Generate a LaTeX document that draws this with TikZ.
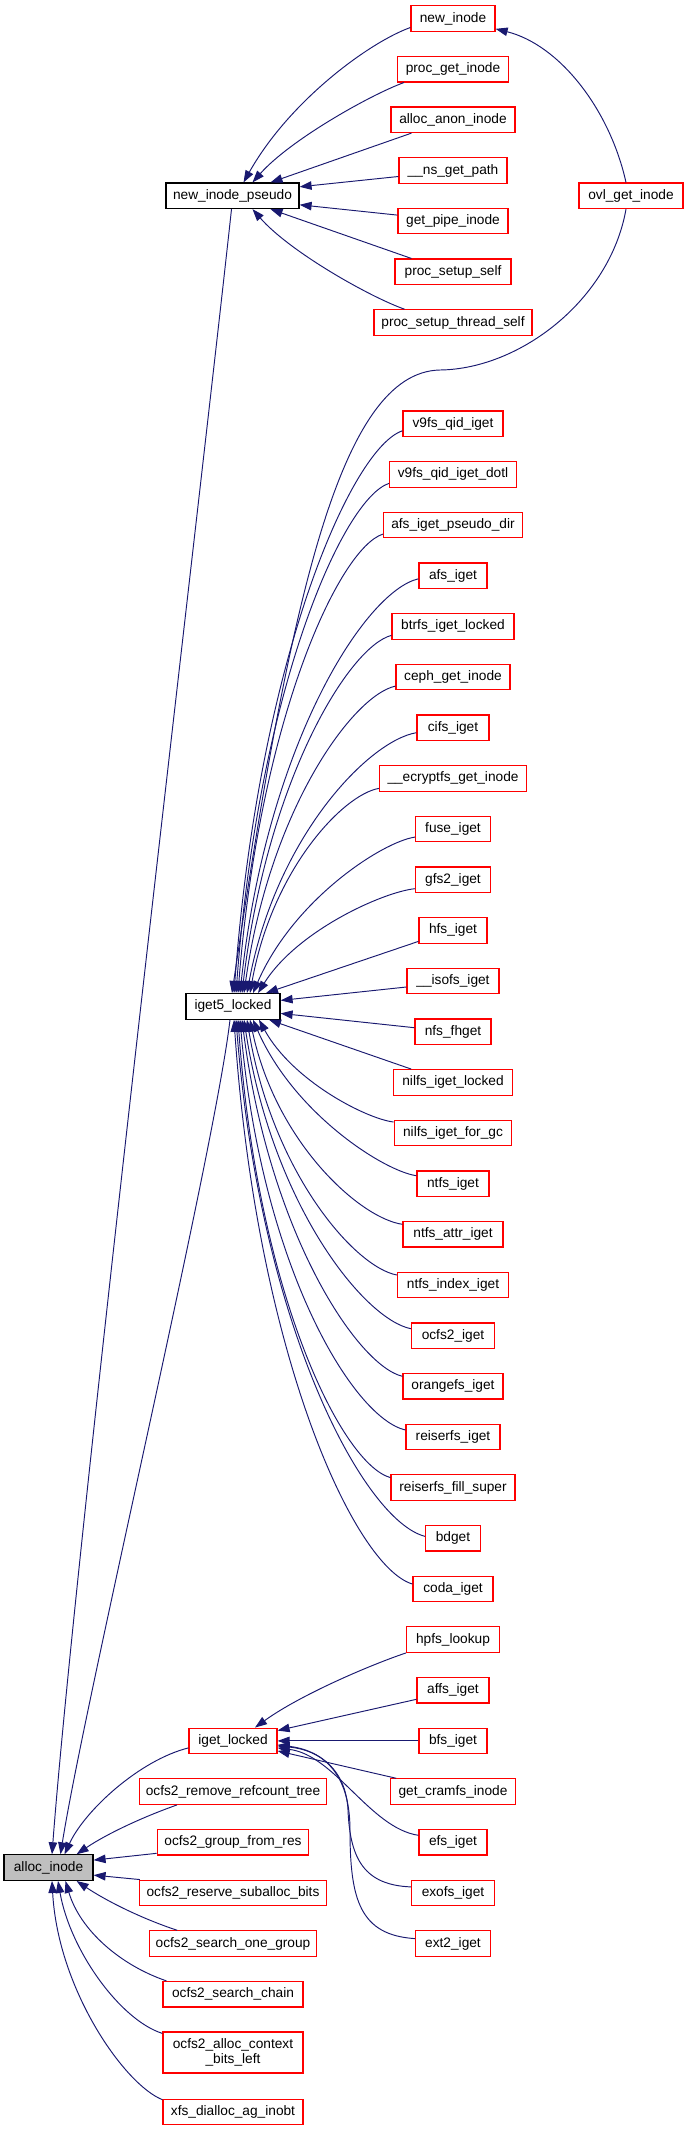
\documentclass[tikz,border=0pt]{standalone}
\usepackage{fontspec}
\setmainfont{Liberation Sans}
\usetikzlibrary{arrows.meta,calc}
\definecolor{edgeblue}{HTML}{191970}
\definecolor{greyfill}{HTML}{BFBFBF}
\newcommand{\nodefont}{\fontsize{13.7}{14.6}\selectfont}
% fan connector: caller, start yshift, callee, anchor, end xshift, C1 x-fraction, C2 x-fraction
\newcommand{\fan}[7]{%
  \path ([yshift=#2]#1.west) coordinate (fS) ([xshift=#5]#3.#4) coordinate (fT);
  \path ($(fS)!#6!(fT)$) coordinate (fA) ($(fS)!0.03!(fT)$) coordinate (fB)
        ($(fS)!#7!(fT)$) coordinate (fC) ($(fS)!0.4!(fT)$) coordinate (fD);
  \draw[conn] ([yshift=#2]#1.west) .. controls (fA |- fB) and (fC |- fD) .. ([xshift=#5]#3.#4);}
\begin{document}
\begin{tikzpicture}[x=1pt,y=-1pt,
  box/.style={draw=red, fill=white, line width=1.2pt, minimum height=25.5pt, inner xsep=1pt, inner ysep=0pt, font=\nodefont},
  bbox/.style={box, draw=black},
  gbox/.style={box, draw=black, fill=greyfill},
  conn/.style={draw=edgeblue, line width=0.95pt, -{Triangle[length=12pt,width=8.5pt]}}]
\fill[white] (0,0) rectangle (688,2131);
\useasboundingbox (0,0) rectangle (688,2131);

% right column
\node[box, minimum width=84pt] (newinode) at (453,18.5) {new\_inode};
\node[box, minimum width=111pt] (procget) at (453,69.2) {proc\_get\_inode};
\node[box, minimum width=124pt] (allocanon) at (453,119.8) {alloc\_anon\_inode};
\node[box, minimum width=108pt] (nsget) at (453,170.5) {\_\_ns\_get\_path};
\node[box, minimum width=110pt] (getpipe) at (453,221.1) {get\_pipe\_inode};
\node[box, minimum width=116pt] (setupself) at (453,271.8) {proc\_setup\_self};
\node[box, minimum width=158pt] (setupthread) at (453,322.5) {proc\_setup\_thread\_self};
\node[box, minimum width=104pt] (ovl) at (631,195.8) {ovl\_get\_inode};
\node[box, minimum width=100pt] (v9fs) at (453,423.8) {v9fs\_qid\_iget};
\node[box, minimum width=127pt] (v9fsdotl) at (453,474.4) {v9fs\_qid\_iget\_dotl};
\node[box, minimum width=139pt] (afspseudo) at (453,525.1) {afs\_iget\_pseudo\_dir};
\node[box, minimum width=68pt] (afs) at (453,575.8) {afs\_iget};
\node[box, minimum width=122pt] (btrfs) at (453,626.4) {btrfs\_iget\_locked};
\node[box, minimum width=114pt] (ceph) at (453,677.1) {ceph\_get\_inode};
\node[box, minimum width=72pt] (cifs) at (453,727.7) {cifs\_iget};
\node[box, minimum width=147pt] (ecryptfs) at (453,778.4) {\_\_ecryptfs\_get\_inode};
\node[box, minimum width=75pt] (fuse) at (453,829.1) {fuse\_iget};
\node[box, minimum width=75pt] (gfs2) at (453,879.7) {gfs2\_iget};
\node[box, minimum width=68pt] (hfs) at (453,930.4) {hfs\_iget};
\node[box, minimum width=92pt] (isofs) at (453,981) {\_\_isofs\_iget};
\node[box, minimum width=76pt] (nfs) at (453,1031.7) {nfs\_fhget};
\node[box, minimum width=118.5pt] (nilfslocked) at (453,1082.4) {nilfs\_iget\_locked};
\node[box, minimum width=117.5pt] (nilfsgc) at (453,1133) {nilfs\_iget\_for\_gc};
\node[box, minimum width=72pt] (ntfs) at (453,1183.7) {ntfs\_iget};
\node[box, minimum width=100pt] (ntfsattr) at (453,1234.3) {ntfs\_attr\_iget};
\node[box, minimum width=111pt] (ntfsindex) at (453,1285) {ntfs\_index\_iget};
\node[box, minimum width=83pt] (ocfs2iget) at (453,1335.7) {ocfs2\_iget};
\node[box, minimum width=100pt] (orangefs) at (453,1386.3) {orangefs\_iget};
\node[box, minimum width=94pt] (reiserfsiget) at (453,1437) {reiserfs\_iget};
\node[box, minimum width=124pt] (reiserfsfill) at (453,1487.6) {reiserfs\_fill\_super};
\node[box, minimum width=55pt] (bdget) at (453,1538.3) {bdget};
\node[box, minimum width=80pt] (coda) at (453,1589) {coda\_iget};
\node[box, minimum width=93pt] (hpfs) at (453,1639.6) {hpfs\_lookup};
\node[box, minimum width=72pt] (affs) at (453,1690.3) {affs\_iget};
\node[box, minimum width=68pt] (bfs) at (453,1740.9) {bfs\_iget};
\node[box, minimum width=125.5pt] (cramfs) at (453,1791.6) {get\_cramfs\_inode};
\node[box, minimum width=68pt] (efs) at (453,1842.3) {efs\_iget};
\node[box, minimum width=83pt] (exofs) at (453,1892.9) {exofs\_iget};
\node[box, minimum width=75pt] (ext2) at (453,1943.6) {ext2\_iget};

% middle column
\node[bbox, minimum width=133pt] (nip) at (232.5,195.8) {new\_inode\_pseudo};
\node[bbox, minimum width=94pt] (iget5) at (233,1006.4) {iget5\_locked};
\node[box, minimum width=88pt] (igetl) at (233,1740.9) {iget\_locked};
\node[box, minimum width=187pt] (remove) at (233,1791.6) {ocfs2\_remove\_refcount\_tree};
\node[box, minimum width=151.5pt] (group) at (233,1842.3) {ocfs2\_group\_from\_res};
\node[box, minimum width=187pt] (reserve) at (233,1892.9) {ocfs2\_reserve\_suballoc\_bits};
\node[box, minimum width=166.5pt] (searchone) at (233,1943.6) {ocfs2\_search\_one\_group};
\node[box, minimum width=140pt] (searchchain) at (233,1994.2) {ocfs2\_search\_chain};
\node[box, minimum width=140pt, minimum height=41pt, align=center] (ac) at (233,2052.5) {ocfs2\_alloc\_context\\\_bits\_left};
\node[box, minimum width=140pt] (xfs) at (233,2112) {xfs\_dialloc\_ag\_inobt};

% left
\node[gbox, minimum width=89pt] (alloc) at (48.5,1867.6) {alloc\_inode};

% callers of new_inode_pseudo
\draw[conn] ([yshift=-9pt]newinode.west) .. controls (370,42) and (290,100) .. ([xshift=11pt]nip.north);
\draw[conn] ([xshift=7pt]procget.south west) .. controls (370,95) and (290,140) .. ([xshift=20pt]nip.north);
\draw[conn] ([xshift=21pt]allocanon.south west) -- ([xshift=38pt]nip.north);
\draw[conn] ([yshift=-6pt]nsget.west) -- ([yshift=9pt]nip.east);
\draw[conn] ([yshift=6pt]getpipe.west) -- ([yshift=-9pt]nip.east);
\draw[conn] ([xshift=17pt]setupself.north west) -- ([xshift=38pt]nip.south);
\draw[conn] ([xshift=31pt]setupthread.north west) .. controls (370,297) and (290,252) .. ([xshift=20pt]nip.south);

% ovl_get_inode
\draw[conn] ([xshift=-5pt]ovl.north) .. controls (610,110) and (560,45) .. ([yshift=3pt]newinode.south east);
\draw[conn] ([xshift=-5pt]ovl.south) .. controls (610,300) and (520,369) .. (440,370) .. controls (340,372) and (290,600) .. ([xshift=-1pt]iget5.north);

% callers of iget5_locked (above)
\fan{v9fs}{-7pt}{iget5}{north}{1pt}{0.3}{0.85}
\fan{v9fsdotl}{-9pt}{iget5}{north}{3pt}{0.3}{0.85}
\fan{afspseudo}{-9pt}{iget5}{north}{5pt}{0.3}{0.85}
\fan{afs}{-3pt}{iget5}{north}{7pt}{0.3}{0.85}
\fan{btrfs}{-9pt}{iget5}{north}{9pt}{0.28}{0.83}
\fan{ceph}{-9pt}{iget5}{north}{11pt}{0.28}{0.83}
\fan{cifs}{-5pt}{iget5}{north}{14pt}{0.28}{0.83}
\fan{ecryptfs}{-10pt}{iget5}{north}{17pt}{0.28}{0.83}
\fan{fuse}{-8pt}{iget5}{north}{20pt}{0.2}{0.75}
\fan{gfs2}{-9pt}{iget5}{north}{25pt}{0.2}{0.75}
\draw[conn] ([yshift=-11pt]hfs.west) -- ([xshift=33pt]iget5.north);
\draw[conn] ([yshift=-6pt]isofs.west) -- ([yshift=6pt]iget5.east);
\draw[conn] ([yshift=4pt]nfs.west) -- ([yshift=-7pt]iget5.east);
% callers of iget5_locked (below)
\draw[conn] ([xshift=18pt]nilfslocked.north west) -- ([xshift=36pt]iget5.south);
\fan{nilfsgc}{11pt}{iget5}{south}{26pt}{0.2}{0.75}
\fan{ntfs}{8pt}{iget5}{south}{20pt}{0.2}{0.75}
\fan{ntfsattr}{10pt}{iget5}{south}{17pt}{0.28}{0.83}
\fan{ntfsindex}{10pt}{iget5}{south}{14pt}{0.28}{0.83}
\fan{ocfs2iget}{7pt}{iget5}{south}{11pt}{0.28}{0.83}
\fan{orangefs}{10pt}{iget5}{south}{9pt}{0.28}{0.83}
\fan{reiserfsiget}{7pt}{iget5}{south}{7pt}{0.32}{0.87}
\fan{reiserfsfill}{10pt}{iget5}{south}{5pt}{0.32}{0.87}
\fan{bdget}{2pt}{iget5}{south}{3pt}{0.32}{0.87}
\fan{coda}{5pt}{iget5}{south}{1pt}{0.32}{0.87}

% callers of iget_locked
\draw[conn] (hpfs.south west) .. controls (370,1665) and (300,1695) .. ([xshift=22pt]igetl.north);
\draw[conn] ([yshift=-9pt]affs.west) -- ([yshift=-3pt]igetl.north east);
\draw[conn] (bfs.west) -- (igetl.east);
\draw[conn] ([xshift=6.5pt]cramfs.north west) -- ([yshift=-10pt]igetl.east);
\draw[conn] ([yshift=7pt]efs.west) .. controls (370,1828) and (335,1755) .. ([yshift=-7pt]igetl.east);
\draw[conn] ([yshift=6pt]exofs.west) .. controls (365,1885) and (350,1860) .. (348,1810) .. controls (346,1770) and (320,1750) .. ([yshift=-5pt]igetl.east);
\draw[conn] ([yshift=5pt]ext2.west) .. controls (360,1935) and (350,1900) .. (350,1830) .. controls (350,1770) and (320,1750) .. ([yshift=-4pt]igetl.east);

% callers of alloc_inode
\draw[conn] ([xshift=-1pt]nip.south) .. controls (200,500) and (75,1550) .. ([xshift=3.5pt]alloc.north);
\draw[conn] ([xshift=-3pt]iget5.south) .. controls (215,1150) and (85,1700) .. ([xshift=12pt]alloc.north);
\draw[conn] ([yshift=-7pt]igetl.west) .. controls (140,1760) and (85,1810) .. ([xshift=16pt]alloc.north);
\draw[conn] ([xshift=38pt]remove.south west) .. controls (140,1818) and (105,1835) .. ([xshift=-17pt]alloc.north east);
\draw[conn] ([yshift=-11pt]group.west) -- ([yshift=7.5pt]alloc.east);
\draw[conn] ([xshift=1pt]reserve.north west) -- ([yshift=-7.5pt]alloc.east);
\draw[conn] ([xshift=28pt]searchone.north west) .. controls (140,1918) and (105,1900) .. ([xshift=-17pt]alloc.south east);
\draw[conn] ([xshift=4pt]searchchain.north west) .. controls (120,1965) and (80,1930) .. ([xshift=17pt]alloc.south);
\draw[conn] ([yshift=-2pt]ac.north west) .. controls (120,2020) and (70,1950) .. ([xshift=9.5pt]alloc.south);
\draw[conn] ([yshift=-1pt]xfs.north west) .. controls (125,2085) and (58,1990) .. ([xshift=3.5pt]alloc.south);
\end{tikzpicture}
\end{document}
